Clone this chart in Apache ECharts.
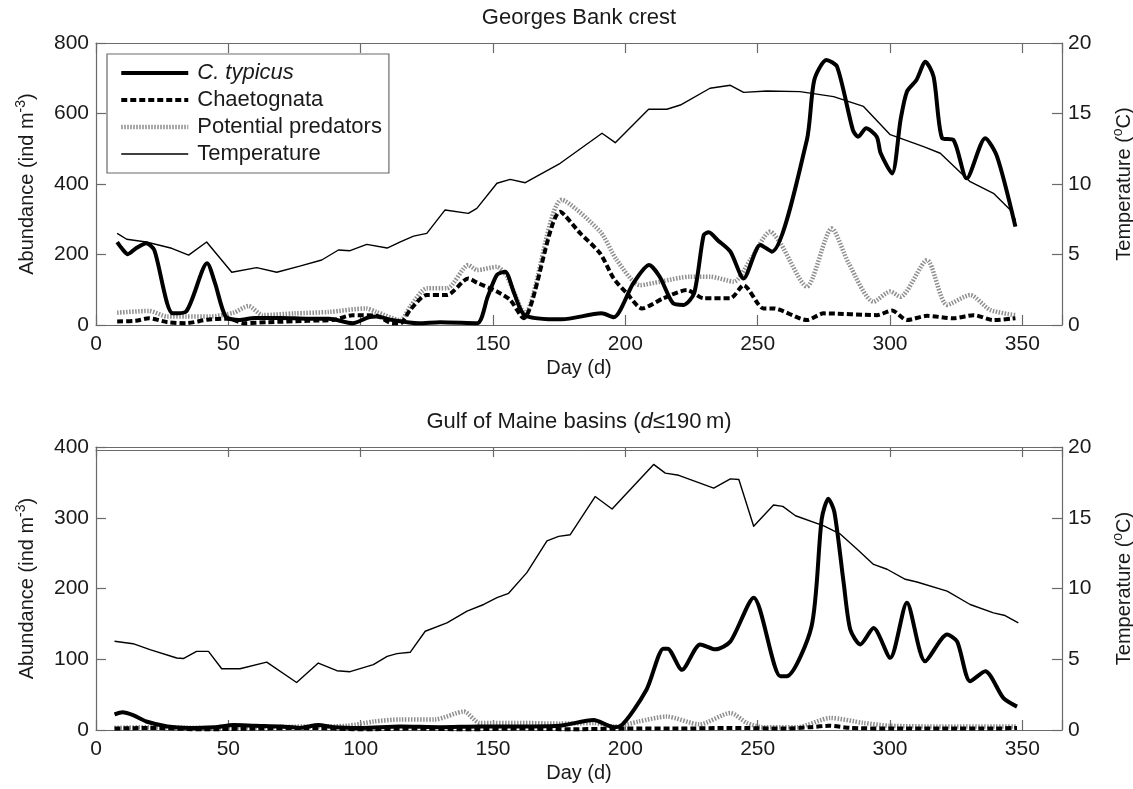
<!DOCTYPE html>
<html>
<head>
<meta charset="utf-8">
<title>Georges Bank crest / Gulf of Maine basins</title>
<script src="https://cdn.jsdelivr.net/npm/echarts@6/dist/echarts.min.js"></script>
<style>
  html, body { margin: 0; padding: 0; background: #fff; }
  #chart { width: 1133px; height: 789px; }
</style>
</head>
<body>
<div id="chart"></div>
<script>
// ---- Georges Bank crest: [day, value] ----
const gbTypicus = [[8,235],[10,215],[12,201],[15,217],[19,232],[22,213],[29,33],[34,38],[42,175],[45,118],[49,24],[54,14],[60,20],[70,20],[80,18],[88,18],[97,5],[103,22],[106,24],[112,14],[122,5],[130,8],[144,5],[148,80],[151.5,142],[154.6,151],[158,90],[162,28],[176,16],[191,33],[195.6,22],[203,118],[209,170],[213,137],[218,62],[222,57],[226,90],[229.6,255],[231.5,263],[235,240],[239.7,208],[244.7,132],[251,227],[255.4,208],[268.6,525],[271.4,695],[276,752],[280,733],[286,553],[288,534],[291,558],[295,534],[296.5,487],[300.8,430],[304,582],[306.4,662],[310,695],[313.4,747],[316.5,704],[319.7,530],[324,525],[329,416],[336,530],[340.5,477],[347.4,279]];
const gbChaeto = [[8,10],[15,12],[20,19],[27,8],[34,5],[42,15],[50,18],[56,5],[65,8],[80,12],[90,15],[97,28],[106,26],[112,5],[115,5],[118.7,43],[125,85],[132.6,85],[140.7,132],[144,120],[151.5,95],[156.5,71],[161.5,19],[175.4,321],[183,260],[190.5,203],[195.6,132],[200.6,90],[206.3,47],[214.4,76],[223.3,99],[229.6,76],[239.7,76],[244.7,113],[252.2,47],[256,47],[268.6,14],[275,33],[295,28],[300.8,41],[306.4,14],[314,26],[324,19],[331.6,28],[339,14],[347.4,19]];
const gbPredators = [[8,35],[20,40],[27,24],[34,24],[43,24],[52,35],[57.6,54],[63,28],[75,33],[88,37],[102,47],[106,37],[115,14],[118.7,52],[125,104],[132.6,104],[140.7,170],[144,156],[151.5,165],[155.3,137],[162,33],[176,355],[190.5,265],[196.8,184],[205.6,113],[213.2,123],[224.5,137],[232,137],[241,123],[247.2,184],[254.8,265],[258.6,232],[268.6,109],[278,274],[284.4,175],[293.8,66],[300.1,95],[303.9,80],[314,184],[321.6,57],[330.3,85],[337.8,43],[347.4,28]];
const gbTemp = [[8,6.5],[11.6,6.08],[19,5.89],[28.6,5.44],[35,4.96],[41.8,5.89],[51.3,3.74],[60.7,4.07],[68.3,3.74],[77,4.18],[85.3,4.61],[91.6,5.32],[96,5.27],[102.3,5.72],[110,5.46],[115,5.9],[120,6.3],[125,6.5],[131.9,8.16],[140.7,7.92],[143.9,8.27],[151.5,10.05],[156.5,10.33],[162.2,10.09],[175.4,11.47],[191.2,13.6],[196.2,12.93],[208.8,15.3],[215.7,15.3],[220.8,15.6],[232,16.79],[239.7,17.0],[244.7,16.5],[253.5,16.6],[266,16.55],[278.7,16.2],[290,15.5],[300.1,13.5],[312.7,12.65],[319,12.18],[330.3,10.16],[339.1,9.34],[345.5,8.16],[347.4,7.45]];

// ---- Gulf of Maine basins: [day, value] ----
const gmTypicus = [[7,22],[10,25],[14,21],[19,12],[27,5],[35,3],[45,4],[52,7],[60,6],[70,5],[77,3],[84,7],[90,4],[100,3],[115,5],[130,4],[145,5],[160,5],[175,6],[188,14],[195.6,4],[198,5],[208,57],[214.4,115],[216,115],[221.4,85],[228.3,121],[234,114],[239.7,125],[248.5,187],[258.6,76],[261,76],[270.4,147],[274.2,298],[276.7,327],[279,308],[282.5,208],[285,142],[288.8,121],[293.8,144],[300.1,102],[306.4,180],[313.3,97],[321.6,135],[325.4,125],[330.3,69],[336,83],[342.9,45],[348,33]];
const gmChaeto = [[7,2],[20,3],[40,1],[60,2],[80,3],[100,1],[120,2],[140,1],[160,2],[180,1],[200,2],[220,2],[240,3],[260,2],[270,4],[277,6],[285,3],[300,2],[320,2],[340,2],[348,3]];
const gmPredators = [[7,3],[20,4],[40,3],[60,4],[80,5],[95,6],[105,12],[115,15],[128,15],[139,26],[145,10],[160,10],[175,9],[188,10],[196,5],[205,12],[215.6,19],[228,8],[239.7,24],[246,10],[252,4],[265,4],[277.5,17],[290,10],[300,6],[320,5],[340,5],[348,5]];
const gmTemp = [[7,6.27],[14,6.1],[20.4,5.68],[30.5,5.09],[33,5.05],[38,5.56],[42.5,5.56],[47.5,4.33],[54.4,4.33],[64.5,4.8],[75.8,3.36],[84,4.73],[91,4.19],[96,4.12],[104.8,4.62],[110,5.2],[113.7,5.4],[118.7,5.49],[124.4,6.98],[132.6,7.57],[140.2,8.4],[146.5,8.87],[151.5,9.35],[155.9,9.66],[162.8,11.12],[170.4,13.37],[174.8,13.68],[179.2,13.8],[188.6,16.5],[195,15.62],[210.7,18.77],[215.1,18.15],[220.2,18.0],[233.4,17.09],[239.7,17.75],[242.9,17.7],[248.5,14.4],[256,15.9],[259.5,15.8],[264.3,15.14],[275,14.43],[281.3,13.84],[287.6,12.78],[293.8,11.7],[298.9,11.36],[305.8,10.65],[310.2,10.46],[321.6,9.82],[330.3,8.87],[339.1,8.28],[343.5,8.09],[348.5,7.57]];

// ---- names and axis settings ----
const seriesNames = ['C. typicus', 'Chaetognata', 'Potential predators', 'Temperature'];
const panelTitles = ['Georges Bank crest', '{n|Gulf of Maine basins (}{i|d}{n|\u2264190\u2009m)}'];
const dayRange = [0, 365, 50];
const abundanceRanges = [[0, 800, 200], [0, 400, 100]];
const tempRange = [0, 20, 5];

const FONT = '"Liberation Sans", Arial, Helvetica, sans-serif';
const AXIS_COLOR = '#6a6a6a';
const TEXT_COLOR = '#1a1a1a';

const grids = [
  { left: 96, right: 71, top: 43, height: 282, outerBoundsMode: 'none', containLabel: false },
  { left: 96, right: 71, top: 447, height: 283, outerBoundsMode: 'none', containLabel: false }
];

function bottomXAxis(gi) {
  return {
    type: 'value', gridIndex: gi, position: 'bottom',
    min: dayRange[0], max: dayRange[1], interval: dayRange[2],
    name: 'Day (d)', nameLocation: 'middle', nameGap: 33,
    nameTextStyle: { fontFamily: FONT, fontSize: 20, color: TEXT_COLOR },
    axisLine: { show: true, onZero: false, lineStyle: { color: AXIS_COLOR, width: 1.2 } },
    axisTick: { show: true, inside: true, length: 10, lineStyle: { color: AXIS_COLOR, width: 1.2 } },
    axisLabel: { fontFamily: FONT, fontSize: 21, color: TEXT_COLOR, margin: 9,
      formatter: v => (v % 50 === 0 ? String(v) : '') },
    splitLine: { show: false }
  };
}
function topXAxis(gi, title) {
  return {
    type: 'value', gridIndex: gi, position: 'top',
    min: dayRange[0], max: dayRange[1], interval: dayRange[2],
    name: title, nameLocation: 'middle', nameGap: 14,
    nameTextStyle: { fontFamily: FONT, fontSize: 22, color: TEXT_COLOR,
      rich: { n: { fontFamily: FONT, fontSize: 22, color: TEXT_COLOR },
              i: { fontFamily: FONT, fontSize: 22, color: TEXT_COLOR, fontStyle: 'italic' } } },
    axisLine: { show: true, onZero: false, lineStyle: { color: AXIS_COLOR, width: 1.2 } },
    axisTick: { show: true, inside: true, length: 10, lineStyle: { color: AXIS_COLOR, width: 1.2 } },
    axisLabel: { show: false },
    splitLine: { show: false }
  };
}
function leftYAxis(gi, r) {
  return {
    type: 'value', gridIndex: gi, position: 'left',
    min: r[0], max: r[1], interval: r[2],
    name: '{t|Abundance (ind m}{s|-3}{t|)}', nameLocation: 'middle', nameGap: 56,
    nameTextStyle: { fontFamily: FONT, fontSize: 20, color: TEXT_COLOR,
      rich: { t: { fontFamily: FONT, fontSize: 20, color: TEXT_COLOR, lineHeight: 26 },
              s: { fontFamily: FONT, fontSize: 14, color: TEXT_COLOR, verticalAlign: 'top', lineHeight: 26, padding: [0, 0, 8, 0] } } },
    axisLine: { show: true, onZero: false, lineStyle: { color: AXIS_COLOR, width: 1.2 } },
    axisTick: { show: true, inside: true, length: 10, lineStyle: { color: AXIS_COLOR, width: 1.2 } },
    axisLabel: { fontFamily: FONT, fontSize: 21, color: TEXT_COLOR, margin: 7 },
    splitLine: { show: false }
  };
}
function rightYAxis(gi) {
  return {
    type: 'value', gridIndex: gi, position: 'right',
    min: tempRange[0], max: tempRange[1], interval: tempRange[2],
    name: '{t|Temperature (}{s|o}{t|C)}', nameLocation: 'middle', nameGap: 49,
    nameTextStyle: { fontFamily: FONT, fontSize: 20, color: TEXT_COLOR,
      rich: { t: { fontFamily: FONT, fontSize: 20, color: TEXT_COLOR, lineHeight: 26 },
              s: { fontFamily: FONT, fontSize: 14, color: TEXT_COLOR, verticalAlign: 'top', lineHeight: 26, padding: [0, 0, 8, 0] } } },
    axisLine: { show: true, onZero: false, lineStyle: { color: AXIS_COLOR, width: 1.2 } },
    axisTick: { show: true, inside: true, length: 10, lineStyle: { color: AXIS_COLOR, width: 1.2 } },
    axisLabel: { fontFamily: FONT, fontSize: 21, color: TEXT_COLOR, margin: 6 },
    splitLine: { show: false }
  };
}

// line styles for the four quantities
const styles = {
  'C. typicus':          { color: '#000', width: 4, type: 'solid', smooth: 0.25 },
  'Chaetognata':         { color: '#000', width: 4, type: [6, 3], smooth: 0.25 },
  'Potential predators': { color: '#8f8f8f', width: 4.5, type: [1.5, 1.5], smooth: 0.25 },
  'Temperature':         { color: '#000', width: 1.4, type: 'solid', smooth: false }
};

function makeSeries(name, data, panel, isTemp) {
  const s = styles[name];
  return {
    name, type: 'line', data,
    xAxisIndex: panel * 2, yAxisIndex: panel * 2 + (isTemp ? 1 : 0),
    symbol: 'none', smooth: s.smooth, silent: true,
    z: name === 'Potential predators' ? 1 : (name === 'Chaetognata' ? 2 : 3),
    lineStyle: { color: s.color, width: s.width, type: s.type, cap: 'butt', join: 'round' },
    itemStyle: { color: s.color },
    animation: false
  };
}

const option = {
  backgroundColor: '#fff',
  animation: false,
  grid: grids,
  xAxis: [
    bottomXAxis(0), topXAxis(0, panelTitles[0]),
    bottomXAxis(1), topXAxis(1, panelTitles[1]),
    { // second rule along the top of the lower frame
      type: 'value', gridIndex: 1, position: 'top', offset: -3,
      min: dayRange[0], max: dayRange[1],
      axisLine: { show: true, onZero: false, lineStyle: { color: AXIS_COLOR, width: 1 } },
      axisTick: { show: false }, axisLabel: { show: false }, splitLine: { show: false }
    }
  ],
  yAxis: [
    leftYAxis(0, abundanceRanges[0]), rightYAxis(0),
    leftYAxis(1, abundanceRanges[1]), rightYAxis(1)
  ],
  legend: {
    data: seriesNames,
    orient: 'vertical',
    left: 107, top: 54,
    padding: [8, 7, 8, 12],
    itemGap: 5,
    itemWidth: 67, itemHeight: 14,
    backgroundColor: '#fff',
    borderColor: AXIS_COLOR, borderWidth: 1.2, borderRadius: 0,
    selectedMode: false,
    itemStyle: { opacity: 0 },
    lineStyle: { width: 'inherit', type: 'inherit', color: 'inherit' },
    textStyle: { fontFamily: FONT, fontSize: 22, color: TEXT_COLOR, lineHeight: 22, padding: [0, 0, 0, 4],
      rich: { i: { fontFamily: FONT, fontSize: 22, color: TEXT_COLOR, fontStyle: 'italic', lineHeight: 22 } } },
    formatter: name => (name === 'C. typicus' ? '{i|C. typicus}' : name)
  },
  series: [
    makeSeries('Potential predators', gbPredators, 0, false),
    makeSeries('Chaetognata', gbChaeto, 0, false),
    makeSeries('C. typicus', gbTypicus, 0, false),
    makeSeries('Temperature', gbTemp, 0, true),
    makeSeries('Potential predators', gmPredators, 1, false),
    makeSeries('Chaetognata', gmChaeto, 1, false),
    makeSeries('C. typicus', gmTypicus, 1, false),
    makeSeries('Temperature', gmTemp, 1, true)
  ]
};

const chart = echarts.init(document.getElementById('chart'), null, { renderer: 'canvas' });
chart.setOption(option);
</script>
</body>
</html>
